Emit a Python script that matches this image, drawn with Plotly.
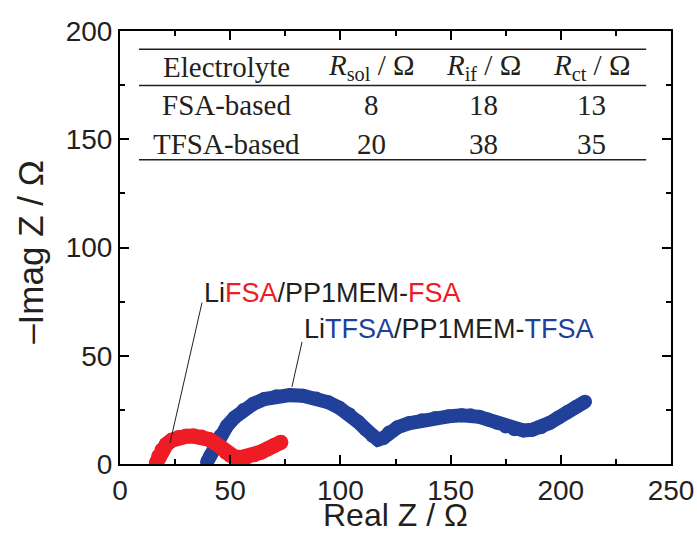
import plotly.graph_objects as go

# Nyquist data (Real Z, -Imag Z) in ohm
fsa_x = [16.5, 17.5, 19, 21, 23.5, 26.5, 30, 33.5, 37, 40.5, 43.5, 46, 48, 50,
         52, 55, 58, 61, 64, 67, 70, 73]
fsa_y = [0.5, 3.5, 6.5, 9, 11, 12.2, 12.8, 12.9, 12.5, 11.3, 9.5, 7.5, 5.5, 4,
         3.2, 3, 3.4, 4.3, 5.5, 7, 8.6, 10]

tfsa_x = [39.5, 41, 43, 45.5, 48.5, 52, 56, 60.5, 65.5, 71, 77, 83, 89, 94.5,
          99.5, 104, 108, 111.5, 114.5, 117, 119.5, 122, 126, 131, 137, 143,
          149, 155, 159, 163, 167, 171, 175, 179, 183, 187, 191, 195, 199,
          203, 207, 211]
tfsa_y = [1, 4, 8.5, 13, 17.5, 21.5, 25, 27.8, 30, 31.3, 31.8, 31.5, 30.3, 28.5,
          26, 23, 19.5, 16, 13, 11.2, 12, 14.5, 17, 18.8, 20.2, 21.2, 22, 22.5,
          22.5, 21.8, 20.5, 19, 17.3, 16, 15.5, 15.8, 17, 19, 21.5, 24, 26.5,
          28.8]

# Fitted resistances table
electrolytes = ["FSA-based", "TFSA-based"]
r_sol = [8, 20]
r_if = [18, 38]
r_ct = [13, 35]
headers = ["Electrolyte", "<i>R</i><sub>sol</sub> / Ω",
           "<i>R</i><sub>if</sub> / Ω", "<i>R</i><sub>ct</sub> / Ω"]

RED = "#EE1C25"
BLUE = "#21409A"
INK = "#231F20"
SANS = "Liberation Sans, Arial"

fig = go.Figure()
fig.add_trace(go.Scatter(
    x=tfsa_x, y=tfsa_y, mode="lines+markers",
    line=dict(color=BLUE, width=14), marker=dict(color=BLUE, size=14),
    showlegend=False, hoverinfo="skip"))
fig.add_trace(go.Scatter(
    x=fsa_x, y=fsa_y, mode="lines+markers",
    line=dict(color=RED, width=15), marker=dict(color=RED, size=15),
    showlegend=False, hoverinfo="skip"))

axis_common = dict(
    showline=True, linecolor="black", linewidth=2, mirror="ticks",
    ticks="inside", ticklen=9, tickwidth=1.5, tickcolor="black",
    minor=dict(ticks="inside", ticklen=5, tickwidth=1.5, tickcolor="black",
               dtick=25),
    showgrid=False, zeroline=False, automargin=False,
    tickfont=dict(family=SANS, size=28, color=INK),
)

fig.update_layout(
    width=697, height=535,
    margin=dict(l=120, r=26, t=31, b=71),
    paper_bgcolor="white", plot_bgcolor="white",
    xaxis=dict(range=[0, 250], dtick=50, **axis_common),
    yaxis=dict(range=[0, 200], dtick=50, **axis_common),
)

# Axis titles
fig.add_annotation(x=0.5, y=-0.1635, xref="paper", yref="paper",
                   xanchor="center", yanchor="bottom", text="Real Z / Ω",
                   showarrow=False,
                   font=dict(family=SANS, size=32, color=INK))
fig.add_annotation(x=-0.1615, y=0.49, xref="paper", yref="paper",
                   xanchor="center", yanchor="middle", textangle=-90,
                   text="\u2013Imag Z / Ω", showarrow=False,
                   font=dict(family=SANS, size=35, color=INK))

# Series labels with leader lines
label_font = dict(family=SANS, size=27, color=INK)
fig.add_annotation(
    x=37.2, y=78.8, xref="x", yref="y", xanchor="left", yanchor="middle",
    text=f"Li<span style='color:{RED}'>FSA</span>/PP1MEM-"
         f"<span style='color:{RED}'>FSA</span>",
    showarrow=False, font=label_font)
fig.add_annotation(
    x=82.4, y=62.4, xref="x", yref="y", xanchor="left", yanchor="middle",
    text=f"Li<span style='color:{BLUE}'>TFSA</span>/PP1MEM-"
         f"<span style='color:{BLUE}'>TFSA</span>",
    showarrow=False, font=label_font)
fig.add_shape(type="line", xref="x", yref="y", x0=37.2, y0=74.5, x1=22.7,
              y1=9.7, line=dict(color=INK, width=1))
fig.add_shape(type="line", xref="x", yref="y", x0=82.6, y0=56.4, x1=78.0,
              y1=35.6, line=dict(color=INK, width=1))

# Table rules
for yy in [0.958, 0.874, 0.7025]:
    fig.add_shape(type="line", xref="paper", yref="paper", x0=0.0345,
                  x1=0.955, y0=yy, y1=yy, line=dict(color=INK, width=1.5))

# Table text
col_x = [0.194, 0.457, 0.660, 0.855]
row_y = [0.918, 0.828, 0.738]
table_font = dict(family="Liberation Serif, Times New Roman", size=29,
                  color=INK)
for cx, h in zip(col_x, headers):
    fig.add_annotation(x=cx, y=row_y[0], xref="paper", yref="paper",
                       text=h, showarrow=False, font=table_font,
                       xanchor="center", yanchor="middle")
for ri, name in enumerate(electrolytes):
    cells = [name, str(r_sol[ri]), str(r_if[ri]), str(r_ct[ri])]
    for cx, c in zip(col_x, cells):
        fig.add_annotation(x=cx, y=row_y[ri + 1], xref="paper", yref="paper",
                           text=c, showarrow=False, font=table_font,
                           xanchor="center", yanchor="middle")

fig.write_html("out.html")
